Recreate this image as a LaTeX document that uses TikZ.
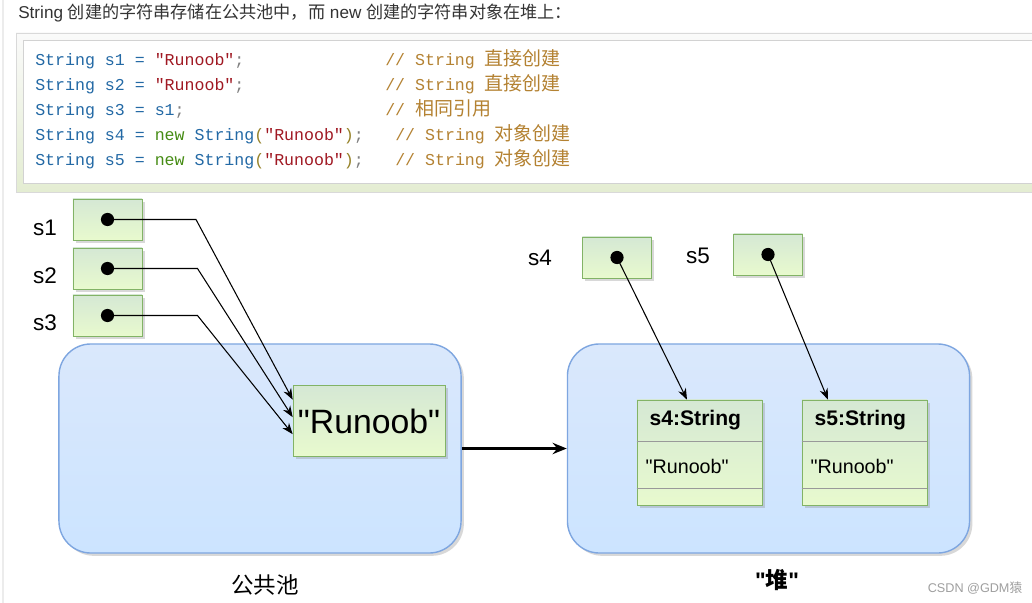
\documentclass[tikz,border=0pt]{standalone}
\usepackage{fontspec}
\setmainfont{Liberation Sans}[Ligatures=TeXOff]
\setmonofont{Liberation Mono}
\newfontfamily\cjk{Noto Sans CJK SC}
\usetikzlibrary{positioning,calc,arrows.meta,shadows}
\definecolor{boxgreen}{RGB}{130,179,102}
\definecolor{greentop}{RGB}{213,232,212}
\definecolor{greenbot}{RGB}{232,250,206}
\definecolor{areablue}{RGB}{126,166,224}
\definecolor{bluetop}{RGB}{218,232,252}
\definecolor{bluebot}{RGB}{204,228,255}
\definecolor{kwblue}{RGB}{35,105,165}
\definecolor{strred}{RGB}{160,25,35}
\definecolor{newgreen}{RGB}{70,140,20}
\definecolor{cmtbrown}{RGB}{180,130,50}
\definecolor{parenolive}{RGB}{150,130,40}
\definecolor{codeback}{RGB}{228,237,210}
\definecolor{headgray}{RGB}{51,51,51}

\tikzset{
  refbox/.style={draw=boxgreen, top color=greentop, bottom color=greenbot,
    minimum width=1.725cm, minimum height=1.025cm, inner sep=0pt,
    drop shadow={shadow xshift=2pt, shadow yshift=-2pt, opacity=0.3}},
  refdot/.style={circle, fill=black, inner sep=0pt, minimum size=0.33cm},
  pointer/.style={line width=0.75pt, -{Stealth[length=8pt,width=6pt]}},
  area/.style={draw=areablue, line width=1pt, top color=bluetop, bottom color=bluebot,
    rounded corners=0.8cm, minimum width=10.05cm, minimum height=5.225cm,
    drop shadow={shadow xshift=2pt, shadow yshift=-2pt, opacity=0.3}},
  objbox/.style={refbox, minimum width=3.125cm, minimum height=2.625cm},
  codeline/.style={anchor=base west, inner sep=0pt, font=\ttfamily\fontsize{11.8}{14}\selectfont},
  varname/.style={font=\fontsize{16}{18}\selectfont},
}

\begin{document}
\begin{tikzpicture}[x=0.025cm, y=-0.025cm]
\useasboundingbox (0,0) rectangle (1032,603);
\fill[white] (0,0) rectangle (1032,603);
\draw[gray!15, line width=1.5pt] (3,0) -- (3,603);

% header and code
\node[anchor=base west, inner sep=0pt, text=headgray, font=\fontsize{12.2}{14}\selectfont] (head) at (18,19)
  {String {\cjk 创建的字符串存储在公共池中，而} new {\cjk 创建的字符串对象在堆上：}};
\shade[draw=gray!30, top color=gray!4, bottom color=codeback] (16,33) rectangle (1034,192);
\draw[gray!35, fill=white] (23,40) rectangle (1034,183);

\node[codeline] (l1) at (35,66) {\textcolor{kwblue}{String s1 =} \textcolor{strred}{"Runoob"}\textcolor{gray}{;}};
\node[codeline] (l2) at (35,91) {\textcolor{kwblue}{String s2 =} \textcolor{strred}{"Runoob"}\textcolor{gray}{;}};
\node[codeline] (l3) at (35,116) {\textcolor{kwblue}{String s3 = s1}\textcolor{gray}{;}};
\node[codeline] (l4) at (35,141) {\textcolor{kwblue}{String s4 =} \textcolor{newgreen}{new} \textcolor{kwblue}{String}\textcolor{parenolive}{(}\textcolor{strred}{"Runoob"}\textcolor{parenolive}{)}\textcolor{gray}{;}};
\node[codeline] (l5) at (35,166) {\textcolor{kwblue}{String s5 =} \textcolor{newgreen}{new} \textcolor{kwblue}{String}\textcolor{parenolive}{(}\textcolor{strred}{"Runoob"}\textcolor{parenolive}{)}\textcolor{gray}{;}};
\node[codeline, text=cmtbrown] (c1) at (385,66) {// String {\cjk\fontsize{13.5}{14}\selectfont 直接创建}};
\node[codeline, text=cmtbrown] (c2) at (385,91) {// String {\cjk\fontsize{13.5}{14}\selectfont 直接创建}};
\node[codeline, text=cmtbrown] (c3) at (385,116) {// {\cjk\fontsize{13.5}{14}\selectfont 相同引用}};
\node[codeline, text=cmtbrown] (c4) at (395,141) {// String {\cjk\fontsize{13.5}{14}\selectfont 对象创建}};
\node[codeline, text=cmtbrown] (c5) at (395,166) {// String {\cjk\fontsize{13.5}{14}\selectfont 对象创建}};

% pool and heap
\node[area] (pool) at (260,448.5) {};
\node[area] (heap) at (768.5,448.5) {};
\node[font=\cjk\fontsize{16}{18}\selectfont] (poolname) at (265,585) {公共池};
\node[font=\bfseries\fontsize{16}{18}\selectfont] (heapname) at (777,580) {"{\cjk 堆}"};
\draw[line width=1.7pt, -{Stealth[length=10pt,width=8pt]}] (pool.east) -- (heap.west);

% references
\node[refbox] (r1) at (107.5,219.5) {};
\node[refbox] (r2) at (107.5,268.5) {};
\node[refbox] (r3) at (107.5,315.5) {};
\node[refbox] (r4) at (617,257.5) {};
\node[refbox] (r5) at (768,254.5) {};
\node[varname] (n1) at (45,228) {s1};
\node[varname] (n2) at (45,276) {s2};
\node[varname] (n3) at (45,323) {s3};
\node[varname] (n4) at (540,258) {s4};
\node[varname] (n5) at (698,256) {s5};
\node[refdot] (d1) at (r1) {};
\node[refdot] (d2) at (r2) {};
\node[refdot] (d3) at (r3) {};
\node[refdot] (d4) at (r4) {};
\node[refdot] (d5) at (r5) {};

% string objects
\node[refbox, minimum width=3.8cm, minimum height=1.775cm, font=\fontsize{24}{28}\selectfont] (str) at (369,421) {"Runoob"};
\node[objbox] (o4) at (699.5,452.5) {};
\node[objbox] (o5) at (864.5,452.5) {};
\foreach \o in {o4,o5}{
  \draw[gray!80] ($(\o.north west)+(0,42)$) -- ($(\o.north east)+(0,42)$);
  \draw[gray!80] ($(\o.north west)+(0,89)$) -- ($(\o.north east)+(0,89)$);
}
\node[anchor=west, font=\bfseries\fontsize{15}{18}\selectfont] (t4) at ($(o4.north west)+(8,20)$) {s4:String};
\node[anchor=west, font=\fontsize{14}{16}\selectfont] (v4) at ($(o4.north west)+(4,67)$) {"Runoob"};
\node[anchor=west, font=\bfseries\fontsize{15}{18}\selectfont] (t5) at ($(o5.north west)+(8,20)$) {s5:String};
\node[anchor=west, font=\fontsize{14}{16}\selectfont] (v5) at ($(o5.north west)+(4,67)$) {"Runoob"};

% pointers
\draw[pointer] (d1.center) -- ++(88.5,0) -- ($(str.north west)+(0,14.5)$);
\draw[pointer] (d2.center) -- ++(90,0) -- ($(str.north west)+(0,32)$);
\draw[pointer] (d3.center) -- ++(90,0) -- ($(str.north west)+(0,49)$);
\draw[pointer] (d4.center) -- ($(o4.north)+(-12.5,0)$);
\draw[pointer] (d5.center) -- ($(o5.north)+(-36.5,0)$);

\node[text=gray!75, font=\fontsize{9}{11}\selectfont] (mark) at (975,588) {CSDN @GDM{\cjk 猿}};
\end{tikzpicture}
\end{document}
